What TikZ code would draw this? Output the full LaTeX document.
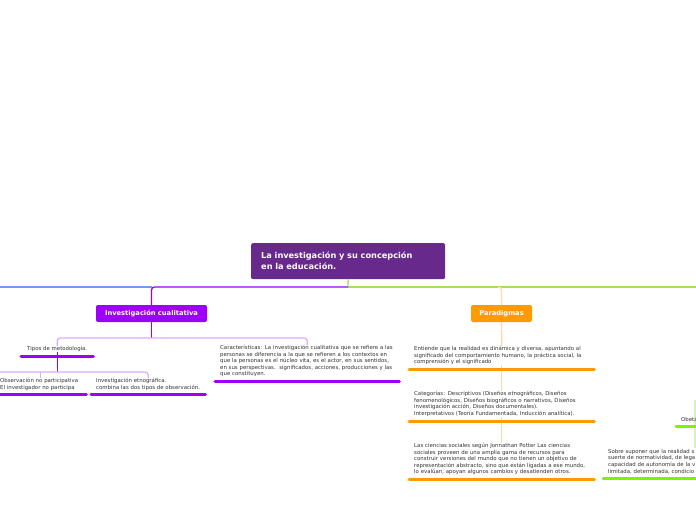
\documentclass[tikz,border=0pt]{standalone}
\usepackage{fontspec}
\setmainfont{DejaVu Sans}
\usetikzlibrary{calc}
\definecolor{rootc}{HTML}{68298C}
\definecolor{vioc}{HTML}{9C00F7}
\definecolor{lavc}{HTML}{DDAEF5}
\definecolor{bluec}{HTML}{6E9BF5}
\definecolor{greenc}{HTML}{A3E060}
\definecolor{greenul}{HTML}{84F000}
\definecolor{glightc}{HTML}{D4F5B0}
\definecolor{orangec}{HTML}{FF9A00}
\definecolor{olightc}{HTML}{FFD9A8}
\definecolor{textc}{HTML}{333333}
\tikzset{
  rootbox/.style={fill=rootc, rounded corners=1.5pt, text=white, font=\bfseries\fontsize{8.2}{11}\selectfont, align=left, anchor=north west, minimum width=194pt, minimum height=36pt, text width=174pt, inner xsep=10pt, inner ysep=0pt},
  catbox/.style={rounded corners=2pt, text=white, font=\bfseries\fontsize{6.7}{7}\selectfont, minimum height=17pt, inner sep=0pt},
  topic/.style={anchor=north west, inner xsep=5pt, inner ysep=0pt, align=left, font=\fontsize{5.4}{6.6}\selectfont, text=textc},
  ul/.style={line width=3pt, line cap=round},
  conn/.style={line width=1.3pt},
}
\begin{document}
\begin{tikzpicture}[x=1pt,y=-1pt]
\useasboundingbox[fill=white] (0,0) rectangle (696,520);
\clip (0,0) rectangle (696,520);

% main topic and branches
\node[rootbox] (root) at (251,243) {La investigación y su concepción\\en la educación.};
\node[catbox, fill=vioc, minimum width=111pt] (ic) at (151.5,313.5) {Investigación cualitativa};
\node[catbox, fill=orangec, minimum width=61pt] (par) at (501.5,313.5) {Paradigmas};

\coordinate (hub) at (348,287);
\coordinate (offL) at (-5,287);
\coordinate (offR) at (701,287);
\draw[conn, greenc] (root.south) -- (hub);
\draw[conn, bluec] (ic.north |- hub) -- (offL);
\draw[conn, greenc] (hub) -- (offR);
\draw[conn, vioc, rounded corners=3pt] (hub) -| (ic.north);
\draw[conn, olightc, rounded corners=3pt] ($(par.north |- hub)+(-4,0)$) -| (par.north);

% Investigación cualitativa children
\node[topic, text width=62pt, align=center] (tipos) at (21,346) {Tipos de metodología.};
\node[topic, text width=174pt] (car) at (215,345) {Características: La investigación cualitativa que se refiere a las\\personas se diferencia a la que se refieren a los contextos en\\que la personas es el núcleo vita, es el actor, en sus sentidos,\\en sus perspectivas.\ \ significados, acciones, producciones y las\\que constituyen.};
\coordinate (bus1) at (0,338);
\draw[conn, vioc] (ic.south) -- (ic.south |- bus1);
\draw[conn, lavc, rounded corners=3pt] (tipos.north) |- (ic.south |- bus1) -| (car.north);

\node[topic, text width=81pt] (obs) at (-5,378) {Observación no participativa\\El investigador no participa};
\node[topic, text width=104pt] (etno) at (91,378) {Investigación etnográfica.\\combina las dos tipos de observación.};
\coordinate (bus2) at (0,372);
\coordinate (offL2) at (-5,372);
\draw[conn, vioc] (tipos.south) -- (tipos.south |- bus2);
\draw[conn, lavc] (obs.north |- bus2) -- (obs.north);
\draw[conn, lavc, rounded corners=3pt] (offL2) -| (etno.north);

\foreach \n in {tipos,car,obs,etno}{
  \draw[ul, vioc] ($(\n.south west)+(0,4.5)$) -- ($(\n.south east)+(0,4.5)$);
}

% Paradigmas children
\node[topic, text width=175pt, fill=white] (p1) at (409,346) {Entiende que la realidad es dinámica y diversa, apuntando al\\significado del comportamiento humano, la práctica social, la\\comprensión y el significado};
\node[topic, text width=175pt, fill=white] (p2) at (409,391) {Categorías: Descriptivos (Diseños etnográficos, Diseños\\fenomenológicos, Diseños biográficos o narrativos, Diseños\\investigación acción, Diseños documentales).\\Interpretativos (Teoría Fundamentada, Inducción analítica).};
\node[topic, text width=175pt, fill=white] (p3) at (409,443) {Las ciencias sociales según Jonnathan Potter Las ciencias\\sociales proveen de una amplia gama de recursos para\\construir versiones del mundo que no tienen un objetivo de\\representación abstracto, sino que están ligadas a ese mundo,\\lo evalúan, apoyan algunos cambios y desatienden otros.};
\draw[conn, olightc] (par.south) -- (p1.north);
\draw[conn, olightc] (p1.south) -- (p2.north);
\draw[conn, olightc] (p2.south) -- (p3.north);
\foreach \n in {p1,p2,p3}{
  \draw[ul, orangec] ($(\n.south west)+(0,4.5)$) -- ($(\n.south east)+(0,4.5)$);
}

% right branch (cut by the edge)
\coordinate (rtop) at (695,400);
\coordinate (rbot) at (695,448);
\draw[conn, glightc] (rtop) -- (rbot);
\node[topic, text width=40pt] (obet) at (676,417) {Obetá};
\node[topic, text width=120pt] (sobre) at (603,449) {Sobre suponer que la realidad s\\suerte de normatividad, de lega\\capacidad de autonomía de la v\\limitada, determinada, condicio};
\foreach \n in {obet,sobre}{
  \draw[ul, greenul] ($(\n.south west)+(0,4.5)$) -- ($(\n.south east)+(0,4.5)$);
}
\end{tikzpicture}
\end{document}
